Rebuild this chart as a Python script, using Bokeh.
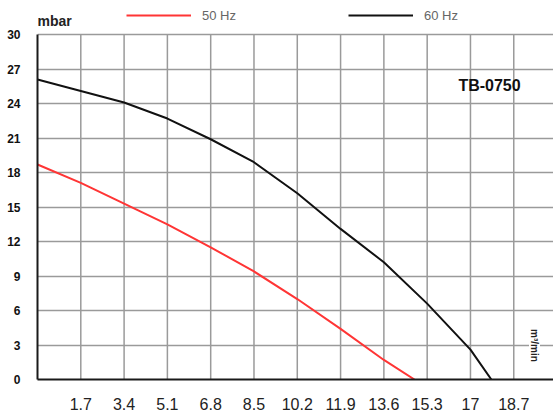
import math
from bokeh.plotting import figure
from bokeh.models import Range1d, FixedTicker, Label
from bokeh.embed import file_html
from bokeh.resources import INLINE

# ---- data ----
flow_50 = [0, 1.7, 3.4, 5.1, 6.8, 8.5, 10.2, 11.9, 13.6, 14.8]
press_50 = [18.7, 17.1, 15.3, 13.5, 11.5, 9.4, 7.0, 4.4, 1.7, 0.0]

flow_60 = [0, 1.7, 3.4, 5.1, 6.8, 8.5, 10.2, 11.9, 13.6, 15.3, 17.0, 17.82]
press_60 = [26.1, 25.1, 24.1, 22.7, 20.9, 18.9, 16.2, 13.1, 10.2, 6.6, 2.6, 0.0]

x_ticks = [1.7, 3.4, 5.1, 6.8, 8.5, 10.2, 11.9, 13.6, 15.3, 17.0, 18.7, 20.4]
x_tick_labels = ["1.7", "3.4", "5.1", "6.8", "8.5", "10.2", "11.9", "13.6", "15.3", "17", "18.7", "20.4"]
y_ticks = [0, 3, 6, 9, 12, 15, 18, 21, 24, 27, 30]

series_names = ["50 Hz", "60 Hz"]
model_name = "TB-0750"
y_unit = "mbar"
x_unit = "m³/min"

FONT = "Liberation Sans"
GRID = "#9a9a9a"

p = figure(width=553, height=412, output_backend="svg", toolbar_location=None,
           x_range=Range1d(0, 20.26), y_range=Range1d(0, 32.97))
p.min_border_left = 37
p.min_border_right = 0
p.min_border_top = 0
p.min_border_bottom = 31
p.outline_line_color = None
p.background_fill_color = "white"
p.border_fill_color = "white"

# axes
for ax in (p.xaxis[0], p.yaxis[0]):
    ax.axis_line_color = "#1a1a1a"
    ax.axis_line_width = 2
    ax.major_tick_line_color = None
    ax.minor_tick_line_color = None
    ax.major_label_text_font = FONT

p.xaxis.ticker = FixedTicker(ticks=x_ticks)
p.xaxis.major_label_overrides = {t: l for t, l in zip(x_ticks, x_tick_labels)}
p.xaxis.major_label_text_font_size = "16px"
p.xaxis.major_label_text_color = "#222222"
p.xaxis.major_label_standoff = 12

p.yaxis.ticker = FixedTicker(ticks=y_ticks)
p.yaxis.bounds = (y_ticks[0], y_ticks[-1])
p.yaxis.major_label_text_font_size = "12px"
p.yaxis.major_label_text_font_style = "bold"
p.yaxis.major_label_text_color = "#111111"
p.yaxis.major_label_standoff = 11

# grid: horizontal lines across, vertical lines only between 0 and 30
p.xgrid.visible = False
p.ygrid.ticker = FixedTicker(ticks=y_ticks)
p.ygrid.grid_line_color = GRID
p.ygrid.grid_line_width = 1.5
p.segment(x0=x_ticks, y0=[y_ticks[0]] * len(x_ticks), x1=x_ticks,
          y1=[y_ticks[-1]] * len(x_ticks), line_color=GRID, line_width=1.5)

# curves
p.line(flow_50, press_50, line_color="#ff3535", line_width=2, legend_label=series_names[0])
p.line(flow_60, press_60, line_color="#111111", line_width=2, legend_label=series_names[1])

lg = p.legend[0]
lg.orientation = "horizontal"
lg.location = (89, 356)
lg.padding = 0
lg.margin = 0
lg.spacing = 112
lg.glyph_width = 65
lg.glyph_height = 16
lg.label_height = 16
lg.label_standoff = 11
lg.label_text_font = FONT
lg.label_text_font_size = "13px"
lg.label_text_color = "#666666"
lg.border_line_color = None
lg.background_fill_alpha = 0

# texts
p.add_layout(Label(x=0, y=359, x_units="screen", y_units="screen", text=y_unit,
                   text_font=FONT, text_font_size="14px", text_font_style="bold",
                   text_color="#222222", text_baseline="middle", text_align="left"))
p.add_layout(Label(x=452, y=294, x_units="screen", y_units="screen", text=model_name,
                   text_font=FONT, text_font_size="16px", text_font_style="bold",
                   text_color="#111111", text_baseline="middle", text_align="center"))
p.add_layout(Label(x=497, y=34, x_units="screen", y_units="screen", text=x_unit,
                   angle=-math.pi / 2, text_font=FONT, text_font_size="10px",
                   text_font_style="bold", text_color="#222222",
                   text_baseline="middle", text_align="center",
                   background_fill_color="white"))

open("out.html", "w").write(file_html(p, INLINE))
